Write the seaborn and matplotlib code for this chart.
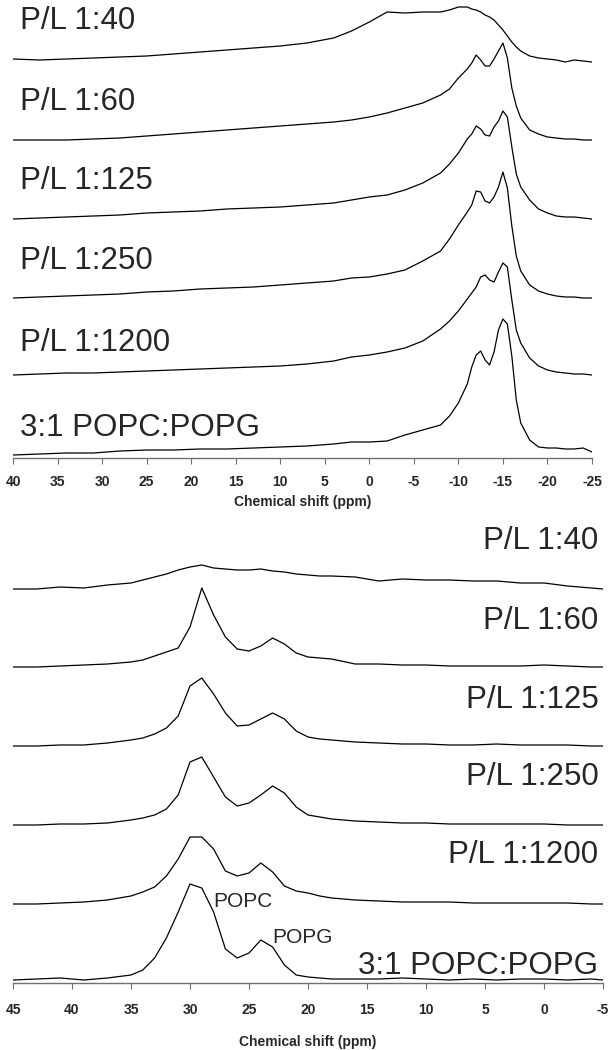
import numpy as np
import matplotlib
matplotlib.use('Agg')
import matplotlib.pyplot as plt
import seaborn as sns

# ---- top panel: chemical shift grid (ppm) and trace heights above each baseline
top_ppm = [40, 37, 34, 31, 28, 25, 22, 19, 16, 13, 10, 7, 4, 2, 0, -2, -4, -6, -8, -9,
           -10, -11, -11.5, -12, -12.5, -13, -13.5, -14, -14.5, -15, -15.5, -16, -16.5, -17, -18,
           -19, -20, -21, -22, -23, -24, -25]
top_pl40 = [3, 2, 3, 4, 5, 6, 8, 10, 12, 14, 16, 19, 24, 31, 40, 50, 49, 50, 50, 52,
            55, 55, 53, 52, 50, 47, 45, 42, 37, 32, 26, 20, 15, 11, 6, 4, 3, 2, 0, 2, 1, 0]
top_pl60 = [0, 0, 0, 1, 2, 4, 6, 8, 10, 12, 14, 16, 18, 20, 23, 27, 32, 37, 45, 51,
            62, 71, 77, 85, 80, 74, 74, 81, 89, 97, 82, 52, 34, 22, 10, 6, 3, 2, 1, 1, 0, 0]
top_pl125 = [0, 1, 2, 3, 4, 6, 7, 8, 10, 11, 12, 14, 16, 19, 22, 24, 29, 36, 46, 55,
             66, 80, 85, 93, 90, 84, 83, 92, 98, 108, 102, 72, 45, 32, 19, 10, 6, 3, 2, 2, 1, 0]
top_pl250 = [0, 1, 2, 3, 4, 6, 7, 9, 10, 11, 13, 15, 17, 20, 21, 24, 28, 37, 47, 59,
             73, 86, 93, 107, 106, 97, 95, 101, 111, 126, 110, 72, 42, 27, 13, 7, 4, 2, 1, 1, 0, 0]
top_pl1200 = [0, 1, 2, 2, 3, 4, 5, 6, 7, 8, 9, 11, 14, 18, 20, 23, 27, 34, 46, 54,
              64, 76, 82, 88, 98, 100, 95, 93, 103, 112, 108, 75, 45, 32, 17, 9, 5, 3, 2, 1, 1, 0]
top_lipid = [-3, -2, -1, -1, 1, 2, 2, 3, 3, 4, 5, 6, 8, 10, 10, 11, 17, 22, 27, 36,
             49, 68, 85, 97, 101, 92, 87, 100, 122, 133, 128, 96, 52, 29, 12, 5, 4, 4, 3, 3, 4, 0]
top_ticks = [40, 35, 30, 25, 20, 15, 10, 5, 0, -5, -10, -15, -20, -25]

# ---- bottom panel
bot_ppm = [45, 43, 41, 39, 37, 35, 34, 33, 32, 31, 30, 29, 28, 27, 26, 25, 24, 23, 22, 21,
           20, 19, 18, 16, 14, 12, 10, 8, 6, 4, 2, 0, -2, -4, -5]
bot_pl40 = [0, 0, 2, 1, 4, 6, 9, 12, 15, 19, 22, 24, 21, 20, 19, 19, 20, 18, 17, 15,
            14, 13, 13, 12, 8, 10, 9, 9, 8, 8, 6, 6, 3, 1, 0]
bot_pl60 = [0, 0, 1, 2, 3, 5, 7, 11, 15, 19, 40, 79, 52, 30, 18, 16, 21, 29, 23, 14,
            10, 9, 8, 3, 3, 2, 2, 1, 1, 1, 1, 2, 1, 0, 0]
bot_pl125 = [0, 0, 1, 1, 3, 6, 8, 12, 18, 30, 60, 68, 52, 33, 20, 21, 27, 33, 27, 15,
             9, 7, 6, 4, 3, 2, 2, 1, 1, 2, 1, 1, 1, 0, 0]
bot_pl250 = [0, 0, 1, 1, 2, 5, 7, 10, 16, 30, 63, 68, 48, 28, 19, 22, 30, 39, 32, 18,
             10, 8, 6, 4, 3, 2, 2, 1, 1, 1, 1, 1, 0, 0, 0]
bot_pl1200 = [0, 0, 1, 2, 4, 8, 12, 17, 28, 45, 67, 67, 55, 33, 28, 31, 41, 32, 18, 13,
              11, 8, 6, 4, 3, 2, 2, 2, 1, 1, 1, 1, 1, 0, 0]
bot_lipid = [0, 1, 2, 0, 2, 5, 10, 22, 42, 68, 96, 92, 68, 31, 22, 27, 40, 33, 15, 5,
             3, 2, 1, 1, 1, 2, 1, 0, 1, 0, 1, 1, 0, 1, 0]
bot_ticks = [45, 40, 35, 30, 25, 20, 15, 10, 5, 0, -5]

labels = ['P/L 1:40', 'P/L 1:60', 'P/L 1:125', 'P/L 1:250', 'P/L 1:1200', '3:1 POPC:POPG']

# stacking offsets and label positions (vertical units = pixels above the axis)
top_offsets = [396, 318, 239, 160, 83, 6]
top_label_y = [429, 348, 269, 189, 107, 22]
bot_offsets = [394, 316, 237, 158, 79, 3]
bot_label_y = [434, 354, 275, 198, 120, 9]

sns.set_style('white')
plt.rcParams['font.family'] = ['Liberation Sans', 'DejaVu Sans']
plt.rcParams['axes.unicode_minus'] = False

fig = plt.figure(figsize=(6.12, 10.5), dpi=100)
ax_top = fig.add_axes([13 / 612, 1 - 458 / 1050, 579 / 612, 458 / 1050])
ax_bot = fig.add_axes([13 / 612, 1 - 983 / 1050, 590 / 612, 463 / 1050])

top_traces = [top_pl40, top_pl60, top_pl125, top_pl250, top_pl1200, top_lipid]
bot_traces = [bot_pl40, bot_pl60, bot_pl125, bot_pl250, bot_pl1200, bot_lipid]

for h, off, ly, lab in zip(top_traces, top_offsets, top_label_y, labels):
    sns.lineplot(x=top_ppm, y=np.array(h) + off, ax=ax_top, color='black',
                 linewidth=0.9, sort=False, estimator=None)
    ax_top.text(39.2, ly, lab, fontsize=22.5, ha='left', va='baseline')

for h, off, ly, lab in zip(bot_traces, bot_offsets, bot_label_y, labels):
    sns.lineplot(x=bot_ppm, y=np.array(h) + off, ax=ax_bot, color='black',
                 linewidth=0.9, sort=False, estimator=None)
    ax_bot.text(-4.6, ly, lab, fontsize=22.5, ha='right', va='baseline')

ax_bot.text(28.0, 76, 'POPC', fontsize=15, ha='left', va='baseline')
ax_bot.text(23.0, 40, 'POPG', fontsize=15, ha='left', va='baseline')

for ax, ticks, xlim, ylim, pad, lpad in [(ax_top, top_ticks, (40, -25), (0, 458), 8.5, 4),
                                         (ax_bot, bot_ticks, (45, -5), (0, 463), 10.5, 13)]:
    ax.set_xlim(*xlim)
    ax.set_ylim(*ylim)
    ax.set_yticks([])
    ax.set_xticks(ticks)
    ax.set_xticklabels([str(t) for t in ticks], fontsize=10, fontweight='bold')
    ax.tick_params(axis='x', direction='out', length=4, width=0.8, color='#707070',
                   pad=pad, bottom=True)
    for s in ['top', 'left', 'right']:
        ax.spines[s].set_visible(False)
    ax.spines['bottom'].set_color('#707070')
    ax.spines['bottom'].set_linewidth(1.0)
    ax.set_xlabel('Chemical shift (ppm)', fontsize=10, fontweight='bold', labelpad=lpad)
    ax.set_ylabel('')
    ax.patch.set_alpha(0)

fig.savefig('out.png', dpi=100)
